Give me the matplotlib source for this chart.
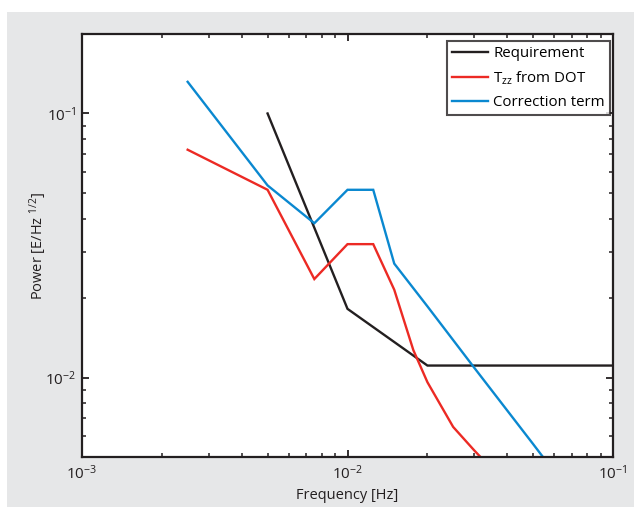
import matplotlib
matplotlib.use("Agg")
import matplotlib.pyplot as plt
from matplotlib.patches import Rectangle

plt.rcParams['font.family'] = ['Open Sans', 'DejaVu Sans']
plt.rcParams['mathtext.default'] = 'regular'

# Data
req_f = [0.005, 0.01, 0.02, 0.1]
req_p = [0.1, 0.0182, 0.0111, 0.0111]

tzz_f = [0.0025, 0.005, 0.0075, 0.01, 0.0125, 0.015, 0.0177, 0.02, 0.025, 0.03, 0.035]
tzz_p = [0.0729, 0.0514, 0.0236, 0.032, 0.032, 0.0215, 0.0127, 0.0096, 0.0065, 0.0053, 0.0045]

corr_f = [0.0025, 0.005, 0.0075, 0.01, 0.0125, 0.015, 0.02, 0.03, 0.05, 0.06]
corr_p = [0.1318, 0.0534, 0.0384, 0.0514, 0.0514, 0.027, 0.0186, 0.0109, 0.0056, 0.0044]

labels = ['Requirement', 'T$_{zz}$ from DOT', 'Correction term']
colors = ['#231f20', '#ec2a24', '#0a88d0']

fig = plt.figure(figsize=(6.34, 5.07), dpi=100, facecolor='white')
fig.patches.append(Rectangle((7/634, 0), 1 - 7/634, 1 - 12/507, transform=fig.transFigure,
                             facecolor='#e6e7e8', edgecolor='none', zorder=-10))
ax = fig.add_axes([82/634, 50/507, (613-82)/634, (457-34)/507])
ax.set_facecolor('white')

for f, p, lab, c in zip([req_f, tzz_f, corr_f], [req_p, tzz_p, corr_p], labels, colors):
    ax.plot(f, p, color=c, lw=1.7, label=lab, solid_joinstyle='miter')

ax.set_xscale('log')
ax.set_yscale('log')
ax.set_xlim(1e-3, 1e-1)
ax.set_ylim(0.005, 0.2)

for s in ax.spines.values():
    s.set_linewidth(1.6)
    s.set_color('#231f20')
ax.tick_params(which='both', direction='in', top=True, right=True, colors='#231f20',
               labelsize=11, labelcolor='#231f20')
ax.tick_params(which='major', length=5, width=1.3)
ax.tick_params(which='minor', length=3, width=1.1)
ax.tick_params(axis='x', which='major', pad=5)
ax.tick_params(axis='y', which='major', pad=4)

ax.set_xlabel('Frequency [Hz]', fontsize=10.5, color='#231f20', labelpad=4)
ax.set_ylabel('Power [E/Hz $^{1/2}$]', fontsize=10.5, color='#231f20', labelpad=-3)

leg = ax.legend(loc='upper right', bbox_to_anchor=(1 - 3/531, 1 - 7/423), borderaxespad=0,
                fontsize=10.8, frameon=True, fancybox=False,
                edgecolor='#231f20', handlelength=2.4, handletextpad=0.35,
                labelspacing=0.55, borderpad=0.35)
leg.get_frame().set_linewidth(1.5)

fig.savefig('out.png', dpi=100, facecolor='white')
